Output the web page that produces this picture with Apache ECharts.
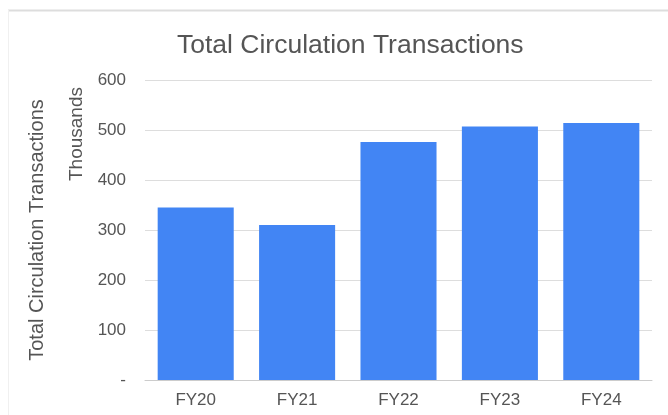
<!DOCTYPE html>
<html>
<head>
<meta charset="utf-8">
<script src="https://cdn.jsdelivr.net/npm/echarts@6/dist/echarts.min.js"></script>
<style>
html, body { margin: 0; padding: 0; background: #fff; }
#main { width: 668px; height: 415px; }
</style>
</head>
<body>
<div id="main"></div>
<script>
var years = ['FY20', 'FY21', 'FY22', 'FY23', 'FY24'];
var transactions = [345, 310, 476, 507, 514]; // thousands
var yTicks = [0, 100, 200, 300, 400, 500, 600];

var chart = echarts.init(document.getElementById('main'));
var font = '"Liberation Sans", Arial, sans-serif';

chart.setOption({
  animation: false,
  textStyle: { fontFamily: font },
  title: {
    text: 'Total Circulation Transactions',
    left: 172,
    top: 27,
    textStyle: { fontFamily: font, fontSize: 26.5, fontWeight: 'normal', color: '#555' }
  },
  graphic: [
    { type: 'line', shape: { x1: 8, y1: 10.5, x2: 668, y2: 10.5 }, style: { stroke: '#ddd', lineWidth: 2 } },
    { type: 'line', shape: { x1: 8.5, y1: 10, x2: 8.5, y2: 415 }, style: { stroke: '#f0f0f0', lineWidth: 1 } },
    {
      type: 'text', x: 77, y: 134, rotation: Math.PI / 2,
      style: { text: 'Thousands', fontFamily: font, fontSize: 19, fill: '#555', textAlign: 'center', textVerticalAlign: 'middle' }
    }
  ],
  grid: { left: 145, right: 16, top: 80, bottom: 35 },
  xAxis: {
    type: 'category',
    data: years,
    axisTick: { show: false },
    axisLine: { lineStyle: { color: '#ccc' } },
    axisLabel: { color: '#555', fontSize: 17, margin: 12 }
  },
  yAxis: {
    type: 'value',
    min: yTicks[0],
    max: yTicks[yTicks.length - 1],
    interval: 100,
    name: 'Total Circulation Transactions',
    nameLocation: 'middle',
    nameGap: 98,
    nameTextStyle: { color: '#555', fontSize: 20 },
    axisLabel: {
      color: '#555', fontSize: 17, margin: 19,
      formatter: function (v) { return v === 0 ? '-' : String(v); }
    },
    splitLine: { lineStyle: { color: '#ddd' } }
  },
  series: [{
    type: 'bar',
    data: transactions,
    barCategoryGap: '25%',
    itemStyle: { color: '#4285f4' }
  }]
});
</script>
</body>
</html>
